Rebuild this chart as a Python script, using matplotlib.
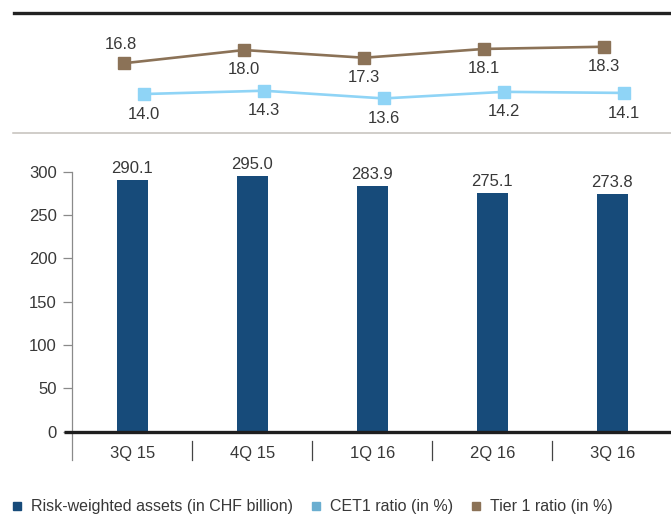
import matplotlib
matplotlib.use("Agg")
import matplotlib.pyplot as plt
from matplotlib.lines import Line2D
import matplotlib.transforms as mtrans
import numpy as np

plt.rcParams['font.family'] = ['Liberation Sans', 'DejaVu Sans']

quarters = ["3Q 15", "4Q 15", "1Q 16", "2Q 16", "3Q 16"]
rwa = [290.1, 295.0, 283.9, 275.1, 273.8]
cet1 = [14.0, 14.3, 13.6, 14.2, 14.1]
tier1 = [16.8, 18.0, 17.3, 18.1, 18.3]
y_ticks = [0, 50, 100, 150, 200, 250, 300]

W, H = 671, 528
fig = plt.figure(figsize=(W / 100, H / 100), dpi=100)

BAR = "#174b7a"
CET_LINE = "#8fd4f6"
CET_LEG = "#6aaed0"
TIER = "#8b7257"
TXT = "#383838"
FS = 12

x = np.arange(len(quarters))
left_px = 72.3
ax_left = left_px / W
ax_w = (W - left_px) / W
xmax = -0.5 + (W - left_px) / 120.0

# ---- bottom bar axes ----
y0_px, y300_px = 431.7, 171.7
ax = fig.add_axes([ax_left, 1 - y0_px / H, ax_w, (y0_px - y300_px) / H])
ax.bar(x, rwa, width=0.26, color=BAR, zorder=2)
for xi, v in zip(x, rwa):
    ax.annotate(f"{v:.1f}", (xi, v), xytext=(0, 5), textcoords="offset points",
                ha="center", va="baseline", fontsize=FS, color=TXT)
ax.set_xlim(-0.5, xmax)
ax.set_ylim(0, 300)
ax.set_yticks(y_ticks)
ax.tick_params(axis="y", length=6.8, width=0.9, color="#8a8a8a", pad=4.5,
               labelsize=FS, labelcolor=TXT)
ax.set_xticks(x)
ax.set_xticklabels(quarters)
ax.tick_params(axis="x", length=0, pad=10.5, labelsize=FS, labelcolor=TXT)
for s in ["top", "right", "bottom"]:
    ax.spines[s].set_visible(False)
ax.spines["left"].set_color("#8a8a8a")
ax.spines["left"].set_linewidth(0.9)
ax_h_px = y0_px - y300_px
ax.plot([-8.3 / (W - left_px), 1], [0, 0], transform=ax.transAxes, color="#1e1e1e",
        lw=2.4, clip_on=False, zorder=3, solid_capstyle="butt")
ax.plot([0, 0], [0, -28.3 / ax_h_px], transform=ax.transAxes, color="#8a8a8a",
        lw=0.9, clip_on=False)
blend = mtrans.blended_transform_factory(ax.transData, ax.transAxes)
for b in x[:-1] + 0.5:
    ax.plot([b, b], [-9 / ax_h_px, -28.3 / ax_h_px], transform=blend,
            color="#444444", lw=0.9, clip_on=False)

# ---- top line axes ----
top_px, bot_px = 13.3, 133.3
ax2 = fig.add_axes([ax_left, 1 - bot_px / H, ax_w, (bot_px - top_px) / H])
ax2.set_xlim(-0.5, xmax)
ax2.set_ylim(10.43, 21.34)
ax2.axis("off")
ax2.plot(x - 0.069, tier1, color=TIER, lw=1.9, marker="s", ms=9, zorder=3)
ax2.plot(x + 0.096, cet1, color=CET_LINE, lw=1.9, marker="s", ms=9, zorder=3)
tier_pos = ["above", "below", "below", "below", "below"]
for xi, v, p in zip(x, tier1, tier_pos):
    off = (-2.5, 13.6) if p == "above" else (0, -14)
    ax2.annotate(f"{v:.1f}", (xi - 0.069, v), xytext=off, textcoords="offset points",
                 ha="center", va="center", fontsize=FS, color=TXT)
for xi, v in zip(x, cet1):
    ax2.annotate(f"{v:.1f}", (xi + 0.096, v), xytext=(0, -14.5), textcoords="offset points",
                 ha="center", va="center", fontsize=FS, color=TXT)

fig.add_artist(Line2D([14 / W, 1], [1 - 13.3 / H] * 2, color="#222222", lw=2.4,
                      transform=fig.transFigure))
fig.add_artist(Line2D([12.7 / W, 1], [1 - 133.3 / H] * 2, color="#c4c0bb", lw=1.1,
                      transform=fig.transFigure))

handles = [
    Line2D([], [], ls="none", marker="s", ms=5.5, color=BAR, label="Risk-weighted assets (in CHF billion)"),
    Line2D([], [], ls="none", marker="s", ms=5.5, color=CET_LEG, label="CET1 ratio (in %)"),
    Line2D([], [], ls="none", marker="s", ms=5.5, color=TIER, label="Tier 1 ratio (in %)"),
]
fig.legend(handles=handles, loc="center left", bbox_to_anchor=(0.016, 1 - 507 / H),
           ncol=3, frameon=False, fontsize=11.5, handlelength=0.8, handletextpad=0.5,
           columnspacing=1.0, labelcolor=TXT, borderaxespad=0, borderpad=0)

fig.savefig("out.png", dpi=100)
